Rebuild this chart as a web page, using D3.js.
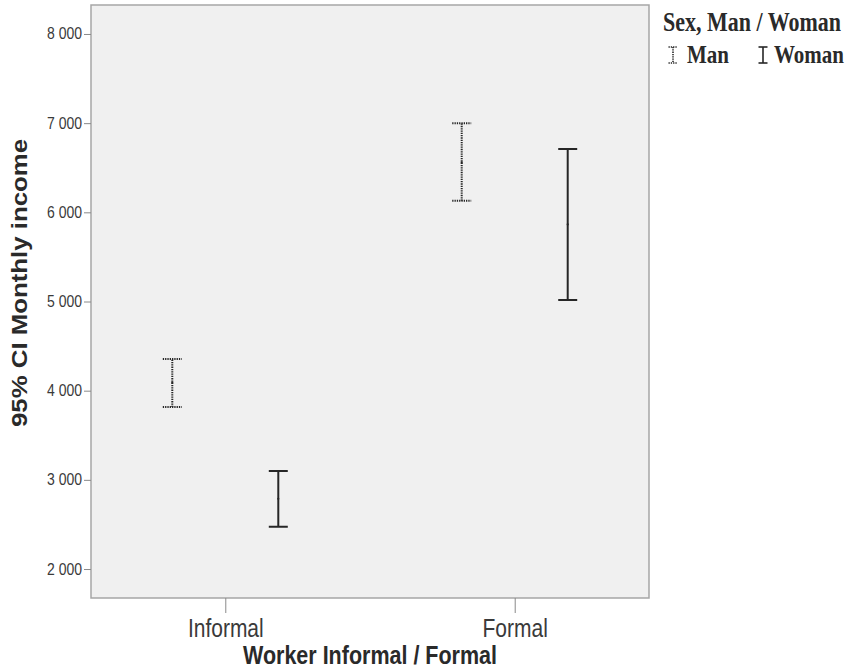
<!DOCTYPE html>
<html>
<head>
<meta charset="utf-8">
<script src="https://cdn.jsdelivr.net/npm/d3@7"></script>
<style>
  body { margin: 0; background: #fff; }
  svg { display: block; }
</style>
</head>
<body>
<svg width="849" height="670"></svg>
<script>
// data
var categories = ["Informal", "Formal"];
var sexes = ["Man", "Woman"];
var manLower = [3817, 6130],
    manUpper = [4355, 6998],
    manMean = [4090, 6557];
var womanLower = [2474, 5017],
    womanUpper = [3099, 6710],
    womanMean = [2787, 5864];
var yTicks = [2000, 3000, 4000, 5000, 6000, 7000, 8000];

// plot box
var plot = {left: 91, top: 5, right: 649, bottom: 598};
var stretch = "scale(1,1.2)";

var svg = d3.select("svg");

var x = d3.scalePoint().domain(categories)
    .range([plot.left, plot.right]).padding(0.464);
var offset = d3.scalePoint().domain(sexes).range([-53, 53]);
var y = d3.scaleLinear().domain([1675, 8325]).range([plot.bottom, plot.top]);

var fmt = d3.formatLocale({decimal: ".", thousands: " ", grouping: [3], currency: ["", ""]}).format(",");

// plot background
svg.append("rect")
    .attr("x", plot.left).attr("y", plot.top)
    .attr("width", plot.right - plot.left)
    .attr("height", plot.bottom - plot.top)
    .attr("fill", "#f0f0f0")
    .attr("stroke", "#a6a6a6")
    .attr("stroke-width", 1.5);

// y axis
var yAxis = svg.append("g")
    .attr("transform", "translate(" + plot.left + ",0)")
    .call(d3.axisLeft(y).tickValues(yTicks).tickSize(7).tickPadding(2).tickFormat(fmt));
yAxis.select(".domain").remove();
yAxis.selectAll("line").attr("stroke", "#8a8a8a");
yAxis.selectAll("text")
    .attr("y", 0).attr("dy", 0)
    .attr("transform", "translate(0,5) " + stretch)
    .style("font-family", "'Liberation Sans', Arial, sans-serif")
    .style("font-size", "14px")
    .attr("fill", "#3a3a3a");

// x axis
var xAxis = svg.append("g")
    .attr("transform", "translate(0," + plot.bottom + ")")
    .call(d3.axisBottom(x).tickSize(15));
xAxis.select(".domain").remove();
xAxis.selectAll("line").attr("stroke", "#8a8a8a");
xAxis.selectAll("text")
    .attr("y", 0).attr("dy", 0)
    .attr("transform", "translate(0,39) " + stretch)
    .style("font-family", "'Liberation Sans', Arial, sans-serif")
    .style("font-size", "21px")
    .attr("fill", "#3a3a3a");

// axis titles
svg.append("text")
    .attr("transform", "translate(" + ((plot.left + plot.right) / 2) + ",664) " + stretch)
    .attr("text-anchor", "middle")
    .style("font-family", "'Liberation Sans', Arial, sans-serif")
    .style("font-weight", "bold")
    .style("font-size", "21.5px")
    .attr("fill", "#2a2a2a")
    .text("Worker Informal / Formal");

svg.append("text")
    .attr("transform", "translate(27,283) rotate(-90) scale(1.2,1)")
    .attr("text-anchor", "middle")
    .style("font-family", "'Liberation Sans', Arial, sans-serif")
    .style("font-weight", "bold")
    .style("font-size", "21.5px")
    .attr("fill", "#2a2a2a")
    .text("95% CI Monthly income");

// error bars
var series = [
  {sex: "Man", lower: manLower, upper: manUpper, mean: manMean, dash: "1.3,1"},
  {sex: "Woman", lower: womanLower, upper: womanUpper, mean: womanMean, dash: null}
];
var capHalf = 9.5;

series.forEach(function(s) {
  var g = svg.append("g")
      .attr("stroke", "#262626")
      .attr("stroke-width", 2)
      .attr("stroke-dasharray", s.dash);
  categories.forEach(function(c, i) {
    var cx = x(c) + offset(s.sex);
    g.append("line")
        .attr("x1", cx).attr("x2", cx)
        .attr("y1", y(s.lower[i])).attr("y2", y(s.upper[i]));
    g.append("line")
        .attr("x1", cx - capHalf).attr("x2", cx + capHalf)
        .attr("y1", y(s.upper[i])).attr("y2", y(s.upper[i]));
    g.append("line")
        .attr("x1", cx - capHalf).attr("x2", cx + capHalf)
        .attr("y1", y(s.lower[i])).attr("y2", y(s.lower[i]));
    svg.append("circle")
        .attr("cx", cx).attr("cy", y(s.mean[i]))
        .attr("r", 1.1)
        .attr("fill", "#262626");
  });
});

// legend
var legend = svg.append("g")
    .style("font-family", "'Liberation Serif', 'Times New Roman', serif")
    .style("font-weight", "bold")
    .style("font-size", "21px")
    .attr("fill", "#2a2a2a");
legend.append("text")
    .attr("transform", "translate(663,31) " + stretch)
    .style("font-size", "22px")
    .text("Sex, Man / Woman");

var legendItems = [
  {label: "Man", icon: 673, text: 687, dash: "1.3,1"},
  {label: "Woman", icon: 763, text: 774, dash: null}
];
legendItems.forEach(function(d) {
  var g = legend.append("g")
      .attr("stroke", "#262626")
      .attr("stroke-width", 1.6)
      .attr("stroke-dasharray", d.dash);
  g.append("line").attr("x1", d.icon).attr("x2", d.icon).attr("y1", 47).attr("y2", 63);
  g.append("line").attr("x1", d.icon - 4.5).attr("x2", d.icon + 4.5).attr("y1", 47).attr("y2", 47);
  g.append("line").attr("x1", d.icon - 4.5).attr("x2", d.icon + 4.5).attr("y1", 63).attr("y2", 63);
  legend.append("text")
      .attr("transform", "translate(" + d.text + ",63) " + stretch)
      .text(d.label);
});
</script>
</body>
</html>
